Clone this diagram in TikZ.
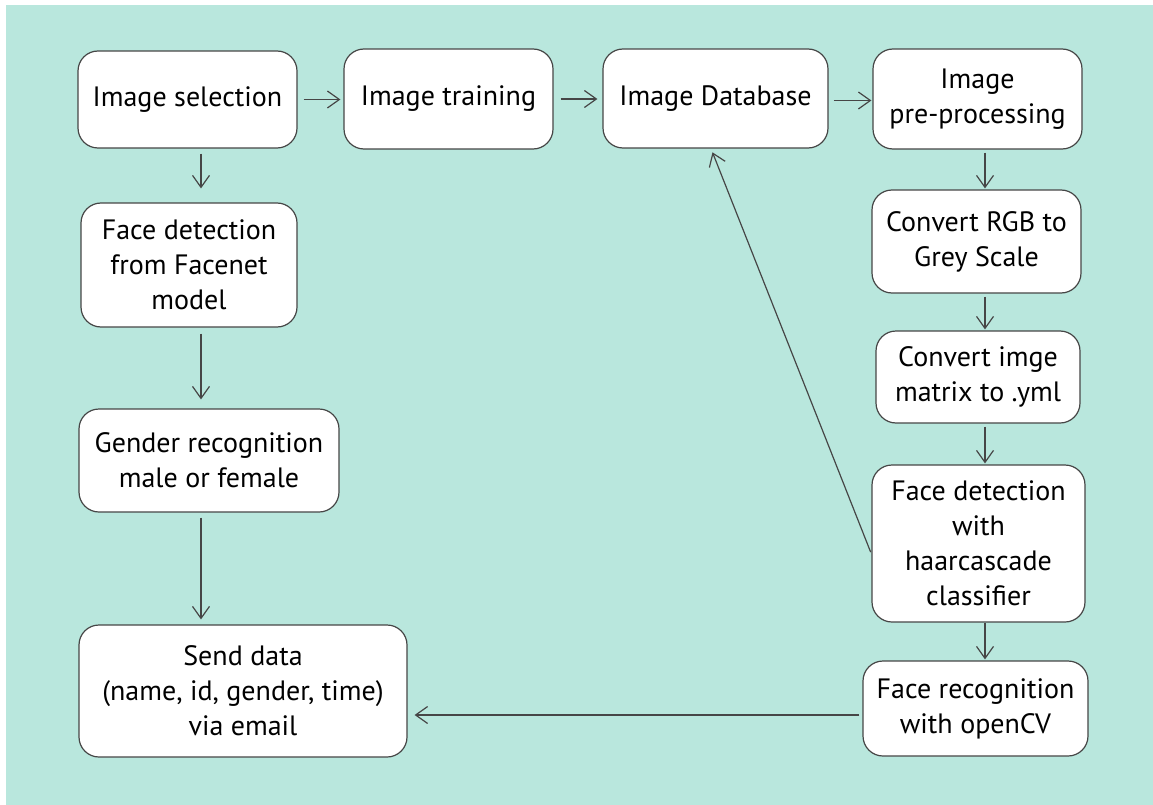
\documentclass[tikz,border=0pt]{standalone}
\usepackage{fontspec}
\setmainfont{PT Sans}
\usetikzlibrary{arrows.meta}
\definecolor{bgteal}{RGB}{185,231,221}
\definecolor{edgegrey}{RGB}{70,70,70}
\tikzset{
  stepbox/.style={draw=edgegrey, line width=1.2pt, fill=white, rounded corners=20pt,
    align=center, inner sep=0pt, font=\fontsize{28}{35}\selectfont, text=black},
  arr/.style={draw=edgegrey, line width=1.2pt, -{Straight Barb[length=12pt,width=17pt,line width=1.2pt]}}
}
\begin{document}
\begin{tikzpicture}[x=1pt,y=-1pt]
\useasboundingbox (0,0) rectangle (1153,805);
\fill[bgteal] (6,5) rectangle (1153,805);

\node[stepbox, minimum width=219pt, minimum height=97pt] (sel) at (187.5,99.5) {Image selection};
\node[stepbox, minimum width=209pt, minimum height=100pt] (train) at (448.5,99) {Image training};
\node[stepbox, minimum width=225pt, minimum height=99pt] (db) at (715.5,98.5) {Image Database};
\node[stepbox, minimum width=209pt, minimum height=100pt] (pre) at (977.5,99) {Image\\pre-processing};
\node[stepbox, minimum width=209pt, minimum height=103pt] (rgb) at (976.5,241.5) {Convert RGB to\\Grey Scale};
\node[stepbox, minimum width=204pt, minimum height=92pt] (yml) at (978,377) {Convert imge\\matrix to .yml};
\node[stepbox, minimum width=213pt, minimum height=157pt] (haar) at (978.5,543.5) {Face detection\\with\\haarcascade\\classifier};
\node[stepbox, minimum width=225pt, minimum height=95pt] (rec) at (975.5,708.5) {Face recognition\\with openCV};
\node[stepbox, minimum width=328pt, minimum height=132pt] (send) at (243,691) {Send data\\(name, id, gender, time)\\via email};
\node[stepbox, minimum width=260pt, minimum height=103pt] (gender) at (209,460.5) {Gender recognition\\male or female};
\node[stepbox, minimum width=216pt, minimum height=124pt] (facenet) at (189,265) {Face detection\\from Facenet\\model};

% top row
\draw[arr, shorten <=6pt, shorten >=3pt] (sel.east) -- (train.west |- sel.east);
\draw[arr, shorten <=7pt, shorten >=5pt] (train.east) -- (db.west |- train.east);
\draw[arr, shorten <=5pt, shorten >=1pt] ([yshift=-2pt]db.east) -- ([yshift=-2pt]pre.west |- db.east);

% left column
\coordinate (lc) at (201,0);
\draw[arr, shorten <=5pt, shorten >=14pt] (sel.south -| lc) -- (facenet.north -| lc);
\draw[arr, shorten <=6pt, shorten >=9pt] (facenet.south -| lc) -- (gender.north -| lc);
\draw[arr, shorten <=5pt, shorten >=5pt] (gender.south -| lc) -- (send.north -| lc);

% right column
\coordinate (rc) at (985,0);
\draw[arr, shorten <=3pt, shorten >=1pt] (pre.south -| rc) -- (rgb.north -| rc);
\draw[arr, shorten <=3pt, shorten >=1pt] (rgb.south -| rc) -- (yml.north -| rc);
\draw[arr, shorten <=3pt, shorten >=1pt] (yml.south -| rc) -- (haar.north -| rc);
\draw[arr, shorten <=0pt, shorten >=1pt] (haar.south -| rc) -- (rec.north -| rc);

% bottom
\draw[arr, shorten <=3pt, shorten >=7pt] ([yshift=-6.5pt]rec.west) -- ([yshift=-6.5pt]send.east |- rec.west);

% feedback
\draw[arr, shorten <=2pt, shorten >=4pt] ([yshift=-10.5pt]haar.west) -- ([xshift=-4.5pt]db.south);
\end{tikzpicture}
\end{document}
